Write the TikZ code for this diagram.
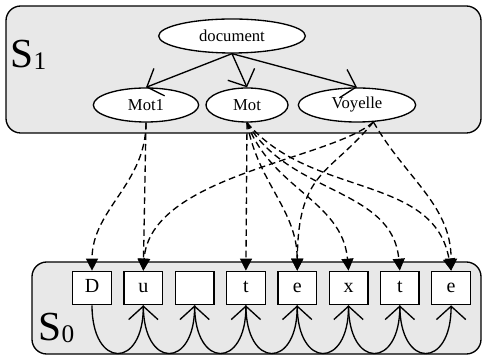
\documentclass[tikz,border=0pt]{standalone}
\usepackage{fontspec}
\setmainfont{Liberation Serif}
\usetikzlibrary{arrows.meta,shapes.geometric}
\definecolor{fond}{gray}{0.91}

\begin{document}
\begin{tikzpicture}[
                x=0.75pt, y=0.75pt, line width=1pt,
                every node/.style={font=\fontsize{12.5}{12.5}\selectfont},
                niveau/.style={draw, fill=fond, rounded corners=11pt},
                etiquette/.style={anchor=base west, inner sep=0pt, font=\fontsize{31}{31}\selectfont},
                noeud/.style={ellipse, draw, fill=white, minimum height=25.5pt, inner sep=0pt},
                lettre/.style={draw, fill=white, minimum width=29pt, minimum height=25pt, inner sep=0pt,
                    text height=1.45ex, text depth=0.1ex, font=\fontsize{15}{15}\selectfont},
                fleche/.style={-{Straight Barb[length=10pt,width=22pt]}},
                lien/.style={dash pattern=on 5pt off 3pt, -{Triangle[length=9pt,width=9pt]}}
            ]
            \useasboundingbox (0,0) rectangle (484,356);
            \draw[niveau] (6,350) rectangle (481,223);
            \draw[niveau] (32,94) rectangle (481,2);
            \node[etiquette] (s1) at (10,288) {S\raisebox{-1.5pt}{\fontsize{19}{19}\selectfont 1}};
            \node[etiquette] (s0) at (38,16) {S\raisebox{-1.5pt}{\fontsize{19}{19}\selectfont 0}};
            \node[noeud, minimum width=110pt] (document) at (232,320) {document};
            \node[noeud, minimum width=79pt] (mot1) at (146,251) {Mot1};
            \node[noeud, minimum width=61.5pt] (mot) at (247,251) {Mot};
            \node[noeud, minimum width=88pt] (voyelle) at (357,251) {Voyelle};
            \foreach \c [count=\i] in {D,u,{},t,e,x,t,e}
                \node[lettre] (l\i) at ({92+51.3*(\i-1)},68) {\c};
            \foreach \i [evaluate=\i as \j using int(\i+1)] in {1,...,7}
                \draw[fleche] (l\i.south) to[out=-90,in=-90,looseness=3.2] (l\j.south);
            \draw[fleche] (document.south) -- (mot1.north);
            \draw[fleche] (document.south) -- (mot.north);
            \draw[fleche] (document.south) -- (voyelle.north);
            \draw[lien] (mot1.south) to[out=-90,in=90] (l1.north);
            \draw[lien] (mot1.south) -- (l2.north);
            \draw[lien] (mot.south) -- (l4.north);
            \draw[lien] (mot.south) to[out=-80,in=90] (l5.north);
            \draw[lien] (mot.south) to[out=-70,in=95] (l6.north);
            \draw[lien] (mot.south) to[out=-60,in=95] (l7.north);
            \draw[lien] (mot.south) to[out=-50,in=100] (l8.north);
            \draw[lien] (voyelle.-46) .. controls (330,196) and (150,181) .. (l2.north);
            \draw[lien] (voyelle.-46) .. controls (330,181) and (298,186) .. (l5.north);
            \draw[lien] (voyelle.-46) to[out=-60,in=90] (l8.north);
        \end{tikzpicture}
\end{document}
